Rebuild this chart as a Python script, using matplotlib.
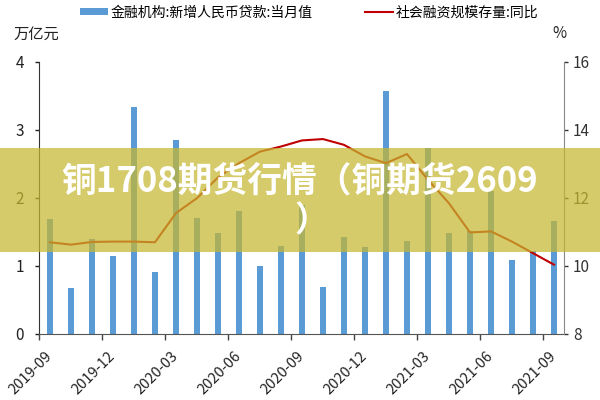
import matplotlib
matplotlib.use('Agg')
import matplotlib.pyplot as plt
import matplotlib.transforms as mtransforms
from matplotlib.patches import Rectangle

plt.rcParams['font.family'] = ['Noto Sans CJK SC', 'DejaVu Sans']

# monthly data, 2019-09 .. 2021-09
months = ['2019-09', '2019-10', '2019-11', '2019-12', '2020-01', '2020-02', '2020-03',
          '2020-04', '2020-05', '2020-06', '2020-07', '2020-08', '2020-09', '2020-10',
          '2020-11', '2020-12', '2021-01', '2021-02', '2021-03', '2021-04', '2021-05',
          '2021-06', '2021-07', '2021-08', '2021-09']
new_loans = [1.69, 0.67, 1.39, 1.15, 3.34, 0.91, 2.85, 1.70, 1.48, 1.81, 1.00, 1.29, 1.90,
             0.69, 1.43, 1.27, 3.58, 1.36, 2.73, 1.48, 1.51, 2.10, 1.09, 1.22, 1.66]
tsf_yoy = [10.69, 10.62, 10.70, 10.71, 10.71, 10.69, 11.55, 11.99, 12.60, 13.02, 13.36, 13.51,
           13.69, 13.73, 13.56, 13.22, 13.02, 13.29, 12.53, 11.84, 10.98, 11.01, 10.71, 10.37, 10.03]
label_loans = '金融机构:新增人民币贷款:当月值'
label_yoy = '社会融资规模存量:同比'

x = list(range(len(months)))

fig = plt.figure(figsize=(6, 4), dpi=100)
ax = fig.add_axes([0.0658, 0.166, 0.875, 0.679])
bars = ax.bar(x, new_loans, width=0.3, color='#5B9BD5', label=label_loans)
ax.set_xlim(-0.5, len(months) - 0.5)
ax.set_ylim(0, 4)
ax.set_yticks([0, 1, 2, 3, 4])

lab_idx = list(range(0, len(months), 3))
ax.set_xticks(lab_idx)
ax.set_xticklabels([months[i] for i in lab_idx], rotation=45, ha='right', fontsize=10.5)
ax.set_xticks([i - 0.5 for i in lab_idx], minor=True)
ax.tick_params(axis='x', which='major', length=0, pad=11, colors='#222222')
ax.tick_params(axis='x', which='minor', length=4, width=1, color='#444444', direction='out')
ax.tick_params(axis='y', length=3, width=1, pad=8, labelsize=11, colors='#222222')
# nudge the rotated month labels a little to the right
shift = mtransforms.ScaledTranslation(5 / 100, 0, fig.dpi_scale_trans)
for lbl in ax.get_xticklabels():
    lbl.set_transform(lbl.get_transform() + shift)

for s in ['top', 'right']:
    ax.spines[s].set_visible(False)
ax.spines['left'].set_color('#333333')
ax.spines['bottom'].set_color('#555555')

ax2 = ax.twinx()
line, = ax2.plot(x, tsf_yoy, color='#C00000', lw=1.5, label=label_yoy)
ax2.set_ylim(8, 16)
ax2.set_yticks([8, 10, 12, 14, 16])
ax2.tick_params(axis='y', length=3, width=1, pad=3, labelsize=11, colors='#333333')
for s in ['top', 'left', 'bottom']:
    ax2.spines[s].set_visible(False)
ax2.spines['right'].set_color('#888888')

fig.text(0.022, 1 - 34 / 400, '万亿元', fontsize=11, ha='left', va='center', color='#222222')
fig.text(0.932, 1 - 34 / 400, '%', fontsize=11, ha='center', va='center', color='#222222')

fig.legend([bars, line], [label_loans, label_yoy], loc='center', bbox_to_anchor=(0.515, 0.969),
           ncol=2, frameon=False, fontsize=10, handlelength=2.0, handleheight=0.5,
           handletextpad=0.2, columnspacing=3.8, borderpad=0)

# overlay banner
fig.add_artist(Rectangle((0, 0.37), 1, 0.26, transform=fig.transFigure,
                         facecolor='#C6B830', edgecolor='none', alpha=0.72, zorder=10))
fig.text(0.5, 1 - 181 / 400, '铜1708期货行情（铜期货2609', fontsize=25, fontweight='bold',
         color='white', ha='center', va='center', zorder=11)
fig.text(294 / 600, 1 - 221 / 400, '）', fontsize=25, fontweight='bold',
         color='white', ha='left', va='center', zorder=11)

fig.savefig('out.png', dpi=100)
